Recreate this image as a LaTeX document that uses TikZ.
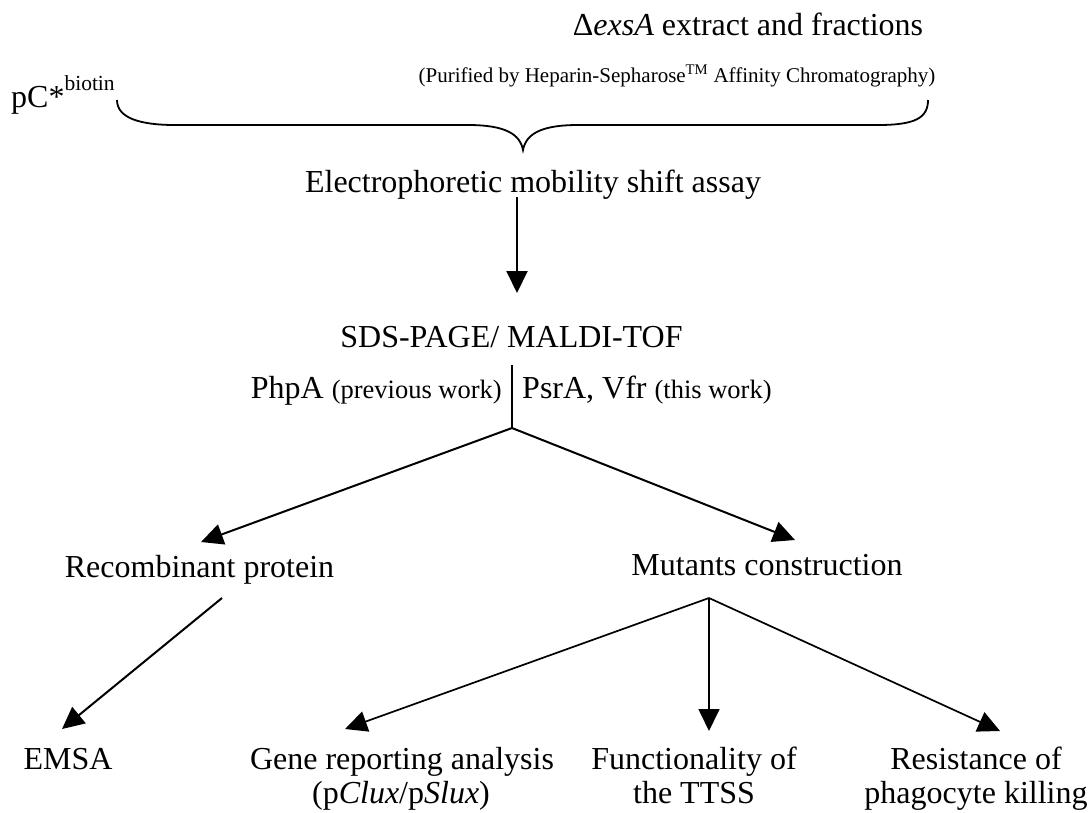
\documentclass[tikz,border=0pt]{standalone}
\usepackage{fontspec}
\setmainfont{Liberation Serif}
\usetikzlibrary{arrows.meta}
\begin{document}
\begin{tikzpicture}[x=1pt,y=-1pt,
  txt/.style={inner sep=0pt, anchor=base, font=\fontsize{32}{36}\selectfont},
  line/.style={line width=2pt},
  brace/.style={line width=1.8pt},
  arr/.style={line width=2pt, -{Triangle[length=22pt,width=21pt]}},
  arrb/.style={line width=1.7pt, -{Triangle[length=22pt,width=21pt]}},
]
\useasboundingbox (0,0) rectangle (1091,812);
% top
\node[txt] (exsa) at (748,35) {Δ\textit{exsA} extract and fractions};
\node[txt, font=\fontsize{21}{24}\selectfont] (purif) at (677,82) {(Purified by Heparin-Sepharose\textsuperscript{TM} Affinity Chromatography)};
\node[txt, anchor=base west] (pc) at (11,107) {pC*\raisebox{17pt}{\fontsize{21.5}{24}\selectfont biotin}};
% brace
\coordinate (bl) at (117,100);
\coordinate (bm) at (523,150);
\coordinate (br) at (928,100);
\draw[brace] (bl) .. controls (117,118) and (140,125) .. (175,125) -- (468,125)
  .. controls (505,125) and (520,134) .. (bm)
  .. controls (526,134) and (541,125) .. (578,125) -- (878,125)
  .. controls (915,125) and (928,118) .. (br);
\node[txt] (ems) at (533,192) {Electrophoretic mobility shift assay};
\coordinate (a1s) at (517,197);
\coordinate (a1e) at (517,293);
\draw[arr] (a1s) -- (a1e);
\node[txt] (sds) at (511.5,347) {SDS-PAGE/ MALDI-TOF};
\coordinate (v1) at (512,365);
\coordinate (j1) at (512,428);
\draw[line] (v1) -- (j1);
\node[txt, anchor=base east] (php) at (502,398) {PhpA {\fontsize{26.5}{30}\selectfont(previous work)}};
\node[txt, anchor=base west] (psr) at (522,398) {PsrA, Vfr {\fontsize{26.5}{30}\selectfont(this work)}};
\coordinate (recT) at (201,542);
\coordinate (mutT) at (795,540);
\draw[arr] (j1) -- (recT);
\draw[arr] (j1) -- (mutT);
\node[txt] (rec) at (199.5,577) {Recombinant protein};
\node[txt] (mut) at (767,575) {Mutants construction};
% bottom
\coordinate (recB) at (222,598);
\coordinate (emsaT) at (62,729);
\draw[arr] (recB) -- (emsaT);
\coordinate (j2) at (709,598);
\coordinate (geneT) at (345,729);
\coordinate (funcT) at (709,731);
\coordinate (resT) at (1000,731);
\draw[arrb] (j2) -- (geneT);
\draw[arrb] (j2) -- (funcT);
\draw[arrb] (j2) -- (resT);
\node[txt] (emsa) at (68,769) {EMSA};
\node[txt] (gene1) at (402,769) {Gene reporting analysis};
\node[txt] (gene2) at (401,803) {(p\textit{Clux}/p\textit{Slux})};
\node[txt] (func1) at (694,769) {Functionality of};
\node[txt] (func2) at (694,803) {the TTSS};
\node[txt] (res1) at (976,769) {Resistance of};
\node[txt] (res2) at (976,803) {phagocyte killing};
\end{tikzpicture}
\end{document}
